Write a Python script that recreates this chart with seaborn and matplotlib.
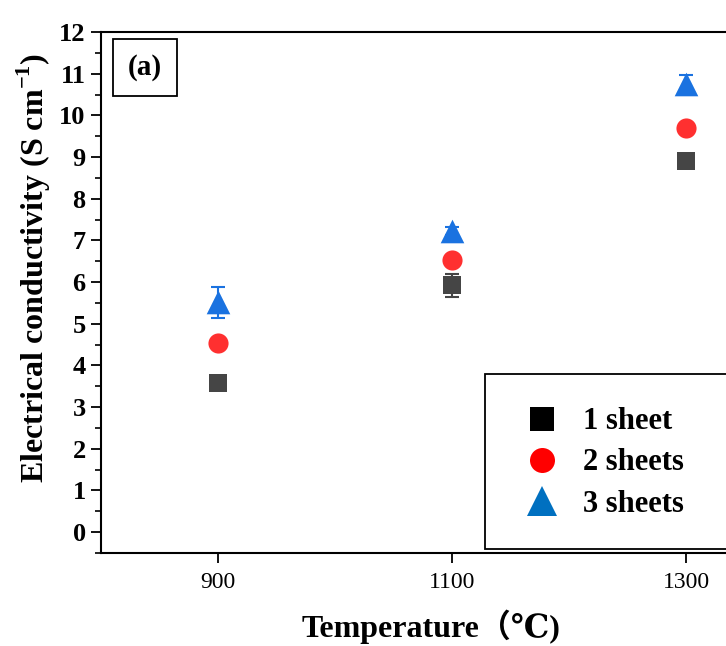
import matplotlib
matplotlib.use("Agg")
import matplotlib.pyplot as plt
from matplotlib.lines import Line2D
from matplotlib.patches import Rectangle
from matplotlib.ticker import MultipleLocator
import seaborn as sns
import pandas as pd

temperatures = [900, 1100, 1300]
series_names = ["1 sheet", "2 sheets", "3 sheets"]
one_sheet = [3.58, 5.92, 8.91]
two_sheets = [4.54, 6.52, 9.70]
three_sheets = [5.52, 7.22, 10.76]
one_sheet_err = [0.08, 0.28, 0.12]
two_sheets_err = [0.08, 0.12, 0.10]
three_sheets_err = [0.37, 0.09, 0.22]
y_ticks = list(range(0, 13))

sns.set_style("ticks")
FAM = ["Liberation Serif", "DejaVu Serif", "Noto Sans CJK SC"]
plt.rcParams["font.family"] = FAM
plt.rcParams["text.color"] = "black"
plt.rcParams["axes.labelcolor"] = "black"
plt.rcParams["mathtext.fontset"] = "custom"
plt.rcParams["mathtext.rm"] = "Liberation Serif"
plt.rcParams["mathtext.bf"] = "Liberation Serif:bold"

rows = []
for name, vals, errs in [("1 sheet", one_sheet, one_sheet_err),
                         ("2 sheets", two_sheets, two_sheets_err),
                         ("3 sheets", three_sheets, three_sheets_err)]:
    for t, v, e in zip(temperatures, vals, errs):
        rows.append({"Temperature": t, "Conductivity": v, "err": e, "Series": name})
df = pd.DataFrame(rows)

plot_colors = {"1 sheet": "#454545", "2 sheets": "#ff3030", "3 sheets": "#1a72e0"}
legend_colors = {"1 sheet": "#000000", "2 sheets": "#ff0000", "3 sheets": "#0070c0"}
markers = {"1 sheet": "s", "2 sheets": "o", "3 sheets": "^"}
sizes = {"1 sheet": 13, "2 sheets": 14.5, "3 sheets": 17}
leg_sizes = {"1 sheet": 17, "2 sheets": 18, "3 sheets": 21}

fig = plt.figure(figsize=(7.26, 6.46), dpi=100)
ax = fig.add_axes([101 / 726, 1 - 553 / 646, 702 / 726, 521 / 646])

for name in series_names:
    sub = df[df["Series"] == name]
    ax.errorbar(sub["Temperature"], sub["Conductivity"], yerr=sub["err"],
                fmt="none", ecolor=plot_colors[name], elinewidth=1.5,
                capsize=5, capthick=1.5, zorder=2)

for name in series_names:
    sub = df[df["Series"] == name]
    sns.scatterplot(data=sub, x="Temperature", y="Conductivity", ax=ax,
                    marker=markers[name], color=plot_colors[name],
                    s=sizes[name] ** 2, linewidth=0, legend=False, zorder=3)

ax.set_xlim(800, 1400)
ax.set_ylim(-0.5, 12)
ax.set_xticks(temperatures)
ax.set_xticklabels([str(t) for t in temperatures], fontsize=17, color="black")
ax.set_yticks(y_ticks)
ax.set_yticklabels([str(t) for t in y_ticks], fontsize=19, fontweight="bold", color="black")
ax.yaxis.set_minor_locator(MultipleLocator(0.5))
ax.tick_params(axis="both", which="major", direction="out", length=7, width=1.3, colors="black", pad=4)
ax.tick_params(axis="y", which="minor", direction="out", length=4, width=1.2, colors="black")
ax.tick_params(axis="x", which="major", pad=7)
for sp in ax.spines.values():
    sp.set_linewidth(1.5)
    sp.set_color("black")

ax.set_xlabel("Temperature（℃)", fontsize=23, fontweight="bold", color="black")
ax.xaxis.set_label_coords(330 / 702, -0.108)
ax.set_ylabel(r"Electrical conductivity (S cm$^{\mathbf{-1}}$)", fontsize=23,
              fontweight="bold", color="black")
ax.yaxis.set_label_coords(-0.068, 0.547)

ax.text(837.5, 11.15, "(a)", fontsize=21, fontweight="bold", ha="center", va="center",
        color="black",
        bbox=dict(boxstyle="square,pad=0.5", facecolor="white", edgecolor="black", linewidth=1.3))

# legend frame (extends past the right edge like the reference)
ax.add_patch(Rectangle((485 / 726, 1 - 549 / 646), 300 / 726, 175 / 646,
                       transform=fig.transFigure, facecolor="white", clip_on=False,
                       edgecolor="black", linewidth=1.3, zorder=5))
handles = [Line2D([0], [0], linestyle="none", marker=markers[n], color=legend_colors[n],
                  markersize=leg_sizes[n], markeredgewidth=0) for n in series_names]
leg = ax.legend(handles, series_names, loc="center left",
                bbox_to_anchor=(511 / 726, 1 - 463 / 646), bbox_transform=fig.transFigure,
                prop={"family": "Liberation Serif", "weight": "bold", "size": 22},
                frameon=False, borderpad=0, handlelength=2.0,
                handletextpad=0.35, labelspacing=0.4, borderaxespad=0)
for t in leg.get_texts():
    t.set_color("black")
leg.set_zorder(10)

fig.savefig("out.png", dpi=100)
